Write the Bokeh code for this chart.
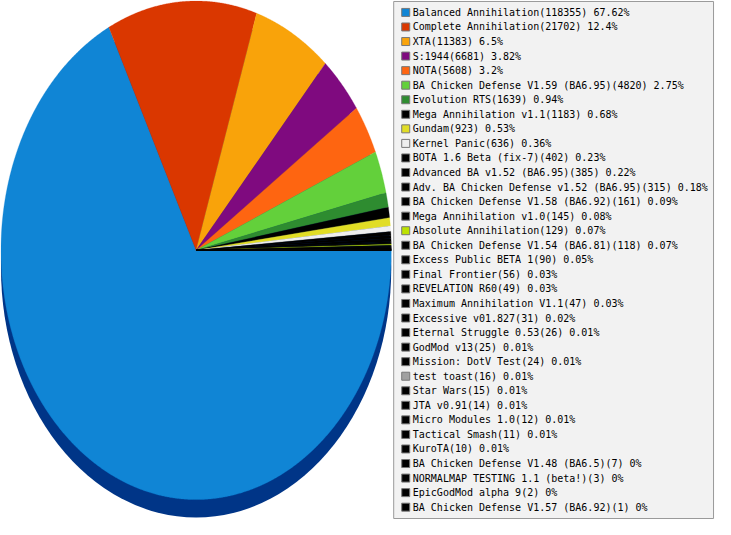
import numpy as np
from bokeh.plotting import figure
from bokeh.models import Range1d, BoxAnnotation
from bokeh.core.properties import value
from bokeh.embed import file_html
from bokeh.resources import INLINE

# ---------------- data ----------------
names = [
    "Balanced Annihilation", "Complete Annihilation", "XTA", "S:1944", "NOTA",
    "BA Chicken Defense V1.59 (BA6.95)", "Evolution RTS", "Mega Annihilation v1.1",
    "Gundam", "Kernel Panic", "BOTA 1.6 Beta (fix-7)", "Advanced BA v1.52 (BA6.95)",
    "Adv. BA Chicken Defense v1.52 (BA6.95)", "BA Chicken Defense V1.58 (BA6.92)",
    "Mega Annihilation v1.0", "Absolute Annihilation", "BA Chicken Defense V1.54 (BA6.81)",
    "Excess Public BETA 1", "Final Frontier", "REVELATION R60", "Maximum Annihilation V1.1",
    "Excessive v01.827", "Eternal Struggle 0.53", "GodMod v13", "Mission: DotV Test",
    "test toast", "Star Wars", "JTA v0.91", "Micro Modules 1.0", "Tactical Smash",
    "KuroTA", "BA Chicken Defense V1.48 (BA6.5)", "NORMALMAP TESTING 1.1 (beta!)",
    "EpicGodMod alpha 9", "BA Chicken Defense V1.57 (BA6.92)",
]
counts = [118355, 21702, 11383, 6681, 5608, 4820, 1639, 1183, 923, 636, 402, 385,
          315, 161, 145, 129, 118, 90, 56, 49, 47, 31, 26, 25, 24, 16, 15, 14, 12,
          11, 10, 7, 3, 2, 1]
pct_labels = ["67.62", "12.4", "6.5", "3.82", "3.2", "2.75", "0.94", "0.68", "0.53",
              "0.36", "0.23", "0.22", "0.18", "0.09", "0.08", "0.07", "0.07", "0.05",
              "0.03", "0.03", "0.03", "0.02", "0.01", "0.01", "0.01", "0.01", "0.01",
              "0.01", "0.01", "0.01", "0.01", "0", "0", "0", "0"]
colors = ["#1085d5", "#da3700", "#f9a30a", "#7f0a7f", "#fe6511", "#63d03b", "#2e8c30",
          "#000000", "#e1dd25", "#eeeeee", "#000000", "#000000", "#000000", "#000000",
          "#000000", "#bde200", "#000000", "#000000", "#000000", "#000000", "#000000",
          "#000000", "#000000", "#000000", "#000000", "#a0a0a0", "#000000", "#000000",
          "#000000", "#000000", "#000000", "#000000", "#000000", "#000000", "#000000"]
side_color = "#003587"

# ---------------- layout ----------------
W, H = 715, 519
SX, SY = W / 731.0, H / 535.0

p = figure(width=W, height=H, x_range=Range1d(0, W), y_range=Range1d(H, 0),
           output_backend="svg", toolbar_location=None, min_border=0,
           x_axis_location=None, y_axis_location=None)
p.grid.visible = False
p.outline_line_color = None
p.background_fill_color = "white"

# pie geometry (screen-like coordinates, y downward)
cx, cy = 200.0 * SX, 257.5 * SY
rx, ry = 199.5 * SX, 257.0 * SY
depth = 18.5 * SY

# 3D side
p.ellipse(x=cx, y=cy + depth, width=2 * rx, height=2 * ry,
          fill_color=side_color, line_color=None)

# slices (clockwise from 3 o'clock)
vals = np.array(counts, dtype=float)
fr = vals / vals.sum()
ends = np.cumsum(fr) * 2 * np.pi
starts = ends - fr * 2 * np.pi
xs, ys = [], []
for a0, a1 in zip(starts, ends):
    n = max(3, int((a1 - a0) / (2 * np.pi) * 1440) + 3)
    t = np.linspace(a0, a1, n)
    xs.append([cx] + list(cx + rx * np.cos(t)))
    ys.append([cy] + list(cy + ry * np.sin(t)))
p.patches(xs=xs, ys=ys, fill_color=colors, line_color=colors, line_width=0.3)

# legend box
p.add_layout(BoxAnnotation(left=402 * SX, right=729 * SX, top=1 * SY, bottom=534 * SY,
                           fill_color="#f2f2f2", fill_alpha=1.0,
                           line_color="#999999", line_width=1, line_alpha=1.0,
                           level="underlay"))

rows = [(12.3 + 15.0 * i) * SY for i in range(len(names))]
labels = [f"{n}({c}) {q}%" for n, c, q in zip(names, counts, pct_labels)]
p.scatter(x=[414.3 * SX] * len(names), y=rows, marker="square", size=8,
          fill_color=colors, line_color="#777777", line_width=1)
p.text(x=[421.5 * SX] * len(names), y=rows, text=labels,
       text_font=value("DejaVu Sans Mono"), text_font_size="10px",
       text_baseline="middle", text_align="left", text_color="#000000")

open("out.html", "w").write(file_html(p, INLINE))
